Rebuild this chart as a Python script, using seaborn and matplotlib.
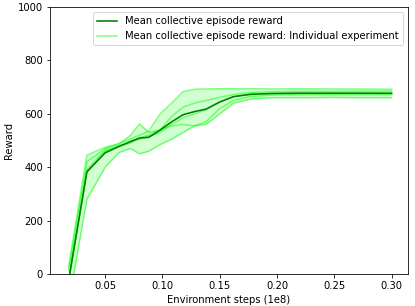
import numpy as np
import pandas as pd
import matplotlib
matplotlib.use("Agg")
import matplotlib.pyplot as plt
import seaborn as sns
from matplotlib.lines import Line2D

steps = [0.018, 0.034, 0.050, 0.062, 0.072, 0.080, 0.088, 0.098, 0.108, 0.118,
         0.128, 0.138, 0.150, 0.162, 0.177, 0.195, 0.220, 0.250, 0.275, 0.300]

run_1 = [13, 420, 470, 490, 505, 520, 535, 600, 640, 683,
         692, 693, 694, 694, 694, 693, 694, 693, 693, 692]
run_2 = [26, 445, 475, 485, 520, 562, 530, 540, 590, 625,
         640, 650, 662, 672, 680, 683, 684, 684, 685, 685]
run_3 = [-110, 280, 400, 455, 470, 450, 460, 485, 505, 530,
         555, 560, 600, 640, 655, 660, 660, 661, 660, 660]
run_4 = [-30, 380, 460, 480, 495, 505, 515, 530, 560, 585,
         600, 615, 645, 665, 672, 675, 676, 676, 676, 676]
run_5 = [-24, 390, 465, 478, 490, 510, 520, 540, 555, 560,
         555, 570, 620, 650, 665, 670, 672, 672, 672, 672]

runs = {"run 1": run_1, "run 2": run_2, "run 3": run_3, "run 4": run_4, "run 5": run_5}

df = pd.concat([pd.DataFrame({"step": steps, "reward": v, "run": k}) for k, v in runs.items()],
               ignore_index=True)

DPI = 72
fig = plt.figure(figsize=(415 / DPI, 306 / DPI), dpi=DPI)
ax = fig.add_axes([50 / 415, 32 / 306, 358 / 415, 267 / 306])

# band (min-max over runs)
sns.lineplot(data=df, x="step", y="reward", estimator="mean", errorbar=("pi", 100),
             color="lime", lw=0, err_kws={"alpha": 0.18, "linewidth": 0}, ax=ax)
# individual experiments
sns.lineplot(data=df, x="step", y="reward", units="run", estimator=None,
             color="lime", alpha=0.5, lw=1.5, ax=ax, legend=False)
# mean
sns.lineplot(data=df, x="step", y="reward", estimator="mean", errorbar=None,
             color="green", lw=1.6, ax=ax)

ax.set_xlim(0.0018, 0.3143)
ax.set_ylim(0, 1000)
ax.set_xticks([0.05, 0.10, 0.15, 0.20, 0.25, 0.30])
ax.set_xticklabels(["0.05", "0.10", "0.15", "0.20", "0.25", "0.30"])
ax.set_yticks([0, 200, 400, 600, 800, 1000])
ax.set_xlabel("Environment steps (1e8)")
ax.set_ylabel("Reward")

handles = [Line2D([0], [0], color="green", lw=1.6),
           Line2D([0], [0], color="lime", alpha=0.5, lw=1.5)]
ax.legend(handles, ["Mean collective episode reward",
                    "Mean collective episode reward: Individual experiment"],
          loc="upper right")

fig.savefig("out.png", dpi=DPI)
